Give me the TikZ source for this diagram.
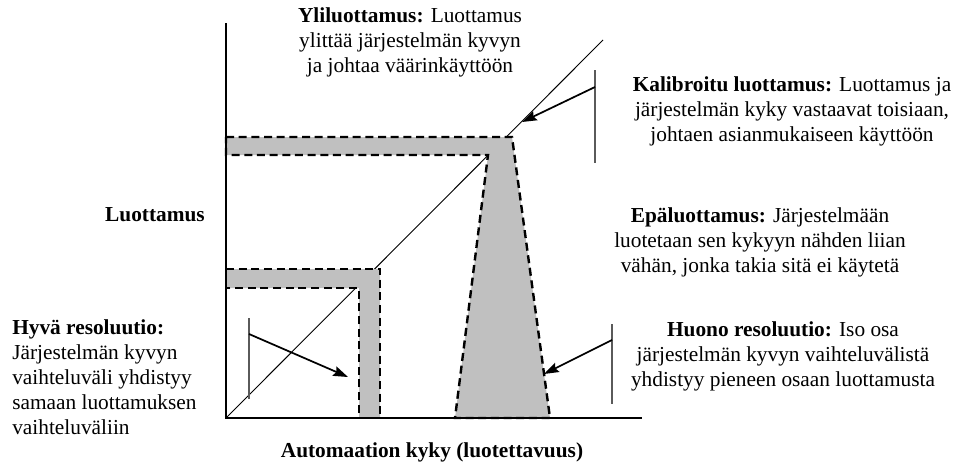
\documentclass[tikz,border=0pt]{standalone}
\usepackage{fontspec}
\setmainfont{Liberation Serif}
\usetikzlibrary{arrows.meta}

\tikzset{
  band/.style={fill={rgb, 255:red, 192; green, 192; blue, 192 }, draw=black, line width=1.8, dash pattern=on 6pt off 3.5pt},
  axisline/.style={line width=1.2},
  tickline/.style={draw={rgb, 255:red, 90; green, 90; blue, 90 }, line width=0.8},
  pointer/.style={line width=1.3, -{Stealth[length=11pt, width=7.5pt, inset=1.5pt]}},
  note/.style={align=center, inner sep=0, font=\fontsize{16}{18.8}\selectfont},
}

\begin{document}
\begin{tikzpicture}[x=0.75pt,y=0.75pt,yscale=-1,xscale=1]
\useasboundingbox (0,0) rectangle (955,465);

%Straight Lines: diagonal
\draw [line width=0.7]   (226,418) -- (603,40) ;

%Shape: Polygon (upper band + trapezoid)
\draw [band]   (226,137) -- (512,137) -- (550,418) -- (455,418) -- (488,155) -- (226,155) -- cycle ;
%Shape: Polygon (lower band)
\draw [band]   (226,269) -- (380,269) -- (380,418) -- (359,418) -- (359,288) -- (226,288) -- cycle ;

%Straight Lines: axes
\draw [axisline]   (226,23) -- (226,418) -- (642,418) ;

%Text Nodes
\node [note] (yli) at (410,42) {\textbf{Yliluottamus:} Luottamus\\ylittää järjestelmän kyvyn\\ja johtaa väärinkäyttöön};
\node [note] (kalib) at (792,111) {\textbf{Kalibroitu luottamus:} Luottamus ja\\järjestelmän kyky vastaavat toisiaan,\\johtaen asianmukaiseen käyttöön};
\node [note] (luot) at (155,215) {\textbf{Luottamus}};
\node [note] (epa) at (760,242) {\textbf{Epäluottamus:} Järjestelmään\\luotetaan sen kykyyn nähden liian\\vähän, jonka takia sitä ei käytetä};
\node [note] (huono) at (783,356) {\textbf{Huono resoluutio:} Iso osa\\järjestelmän kyvyn vaihteluvälistä\\yhdistyy pieneen osaan luottamusta};
\node [note, align=left, anchor=west] (hyva) at (12,377) {\textbf{Hyvä resoluutio:}\\Järjestelmän kyvyn\\vaihteluväli yhdistyy\\samaan luottamuksen\\vaihteluväliin};
\node [note] (kyky) at (432,452) {\textbf{Automaation kyky (luotettavuus)}};

%Coordinates for the pointers
\coordinate (kalibtop) at (595,70);
\coordinate (kalibbot) at (595,163);
\coordinate (kalibfrom) at (595,87);
\coordinate (kalibto) at (522,122);
\coordinate (hyvatop) at (249,318);
\coordinate (hyvabot) at (249,399);
\coordinate (hyvafrom) at (249,334);
\coordinate (hyvato) at (348,377);
\coordinate (huonotop) at (612,324);
\coordinate (huonobot) at (612,404);
\coordinate (huonofrom) at (612,340);
\coordinate (huonoto) at (544,374);

%Straight Lines: brackets
\draw [tickline]   (kalibtop) -- (kalibbot) ;
\draw [tickline]   (hyvatop) -- (hyvabot) ;
\draw [tickline]   (huonotop) -- (huonobot) ;

%Straight Lines: pointers
\draw [pointer]   (kalibfrom) -- (kalibto) ;
\draw [pointer]   (hyvafrom) -- (hyvato) ;
\draw [pointer]   (huonofrom) -- (huonoto) ;

\end{tikzpicture}
\end{document}
